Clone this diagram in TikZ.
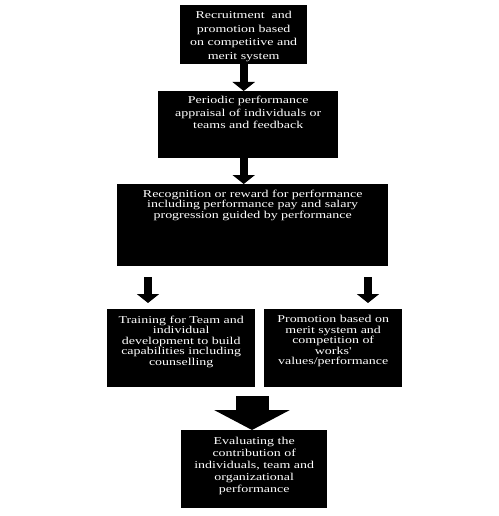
\documentclass[tikz,border=0pt]{standalone}
\usepackage{fontspec}
\newfontfamily\stagefont[FakeStretch=1.33]{Liberation Serif}
\usetikzlibrary{arrows.meta, positioning}

\begin{document}
\begin{tikzpicture}[
    x=1pt, y=-1pt,
    stage/.style={rectangle, fill=black, inner sep=0pt, anchor=north west},
    stagetext/.style={text=white, align=center, inner sep=0pt, anchor=north},
    flow/.style={line width=8pt, -{Triangle[width=22pt, length=9pt]}},
    bigflow/.style={line width=33pt, -{Triangle[width=75pt, length=20pt]}}
]

% Canvas
\fill[white] (0,0) rectangle (498,516);
\useasboundingbox (0,0) rectangle (498,516);

% Boxes
\node[stage, minimum width=127pt, minimum height=59pt] (recruit) at (180,5) {};
\node[stage, minimum width=180pt, minimum height=67pt] (appraisal) at (158,91) {};
\node[stage, minimum width=271pt, minimum height=82pt] (reward) at (117,184) {};
\node[stage, minimum width=148pt, minimum height=78pt] (training) at (107,309) {};
\node[stage, minimum width=138pt, minimum height=78pt] (promotion) at (264,309) {};
\node[stage, minimum width=146pt, minimum height=78pt] (evaluate) at (181,430) {};

% Texts
\node[stagetext, font=\stagefont\fontsize{10.5pt}{13.7pt}\selectfont] (recruittext) at ([yshift=-6pt]recruit.north) {Recruitment\ \ and\\promotion based\\on competitive and\\merit system};
\node[stagetext, font=\stagefont\fontsize{10.5pt}{12.5pt}\selectfont] (appraisaltext) at ([yshift=-5pt]appraisal.north) {Periodic performance\\appraisal of individuals or\\teams and feedback};
\node[stagetext, font=\stagefont\fontsize{10.5pt}{10.4pt}\selectfont] (rewardtext) at ([yshift=-6pt]reward.north) {Recognition or reward for performance\\including performance pay and salary\\progression guided by performance};
\node[stagetext, font=\stagefont\fontsize{10.5pt}{10.5pt}\selectfont] (trainingtext) at ([yshift=-6.5pt]training.north) {Training for Team and\\individual\\development to build\\capabilities including\\counselling};
\node[stagetext, font=\stagefont\fontsize{10.5pt}{10.5pt}\selectfont] (promotiontext) at ([yshift=-6.5pt]promotion.north) {Promotion based on\\merit system and\\competition of\\works'\\values/performance};
\node[stagetext, font=\stagefont\fontsize{10.5pt}{12pt}\selectfont] (evaluatetext) at ([yshift=-7pt]evaluate.north) {Evaluating the\\contribution of\\individuals, team and\\organizational\\performance};

% Arrows
\coordinate (splitL) at (148,277);
\coordinate (splitR) at (368,277);
\coordinate (merge) at (252,396);
\draw[flow] (recruit.south) -- (recruit.south |- appraisal.north);
\draw[flow] (recruit.south |- appraisal.south) -- (recruit.south |- reward.north);
\draw[flow, shorten >=6pt] (splitL) -- (splitL |- training.north);
\draw[flow, shorten >=6pt] (splitR) -- (splitR |- promotion.north);
\draw[bigflow] (merge) -- (merge |- evaluate.north);

\end{tikzpicture}
\end{document}
